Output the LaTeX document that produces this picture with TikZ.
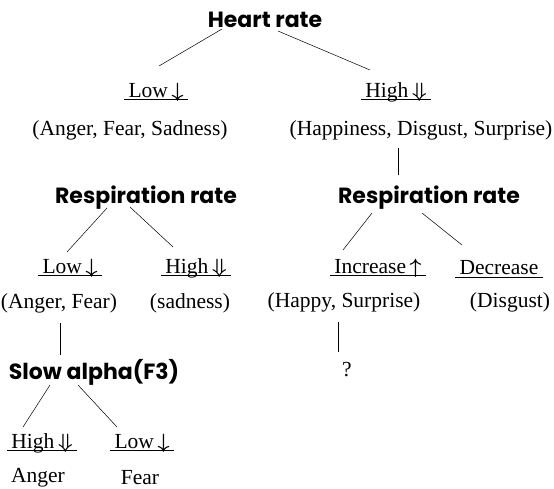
\documentclass[tikz,border=0pt]{standalone}
\usepackage{fontspec}
\setmainfont{Liberation Serif}
\newfontfamily\headfont{Poppins}
\newcommand\dn{\,{\boldmath$\downarrow$}}
\newcommand\Dn{\,{\boldmath$\Downarrow$}}
\newcommand\upar{\,{\boldmath$\uparrow$}}
\tikzset{
  head/.style={font=\headfont\bfseries\fontsize{22}{26}\selectfont, inner sep=1pt},
  lbl/.style={font=\fontsize{21.5}{25}\selectfont, inner sep=1pt},
  ulbl/.style={lbl, inner xsep=4pt},
}

\begin{document}
\begin{tikzpicture}[x=1pt,y=-1pt,line width=0.5pt]
\useasboundingbox (0,0) rectangle (554,489);
% 第一层：心率
\node[head] (hr) at (265,20) {Heart rate};
\node[ulbl] (hl) at (156,92) {Low\dn};
\node[ulbl] (hh) at (396,92) {High\Dn};
\node[lbl] (ha) at (130,130) {(Anger, Fear, Sadness)};
\node[lbl] (hb) at (421,130) {(Happiness, Disgust, Surprise)};
\draw ([shift={(-43,9)}]hr.center) -- ([shift={(3,-26)}]hl.center);
\draw ([shift={(13,11)}]hr.center) -- ([shift={(-26,-22)}]hh.center);
% 第二层：呼吸率
\node[head] (rA) at (146,198) {Respiration rate};
\node[head] (rB) at (429,198) {Respiration rate};
\draw ([shift={(-23,18)}]hb.center) -- ([shift={(-31,-23)}]rB.center);
\node[ulbl] (rl) at (70,268) {Low\dn};
\node[ulbl] (rh) at (196,268) {High\Dn};
\node[ulbl] (ri) at (378,268) {Increase\upar};
\node[ulbl] (rd) at (499,268) {Decrease};
\draw ([shift={(-39,10)}]rA.center) -- ([shift={(-3,-16)}]rl.center);
\draw ([shift={(-16,9)}]rA.center) -- ([shift={(-23,-21)}]rh.center);
\draw ([shift={(-57,15)}]rB.center) -- ([shift={(-35,-18)}]ri.center);
\draw ([shift={(-7,15)}]rB.center) -- ([shift={(-37,-23)}]rd.center);
\node[lbl] (ra) at (59,303) {(Anger, Fear)};
\node[lbl] (rs) at (190,303) {(sadness)};
\node[lbl] (rc) at (344,302) {(Happy, Surprise)};
\node[lbl] (rg) at (510,302) {(Disgust)};
% 第三层：慢alpha
\node[head] (sa) at (94,372) {Slow alpha(F3)};
\node[lbl] (q) at (347,370) {?};
\draw ([shift={(1,20)}]ra.center) -- ([shift={(-34,-17)}]sa.center);
\draw ([shift={(-6,20)}]rc.center) -- ([shift={(-9,-18)}]q.center);
\node[ulbl] (sh) at (42,443) {High\Dn};
\node[ulbl] (sl) at (142,443) {Low\dn};
\draw ([shift={(-44,13)}]sa.center) -- ([shift={(-19,-16)}]sh.center);
\draw ([shift={(-16,13)}]sa.center) -- ([shift={(-25,-16)}]sl.center);
\node[lbl] (an) at (38,478) {Anger};
\node[lbl] (fe) at (140,478) {Fear};
% 下划线
\foreach \n in {hl,hh,rl,rh,ri,rd,sh,sl}
  \draw ([yshift=-2pt]\n.base west) -- ([yshift=-2pt]\n.base east);
\end{tikzpicture}
\end{document}
